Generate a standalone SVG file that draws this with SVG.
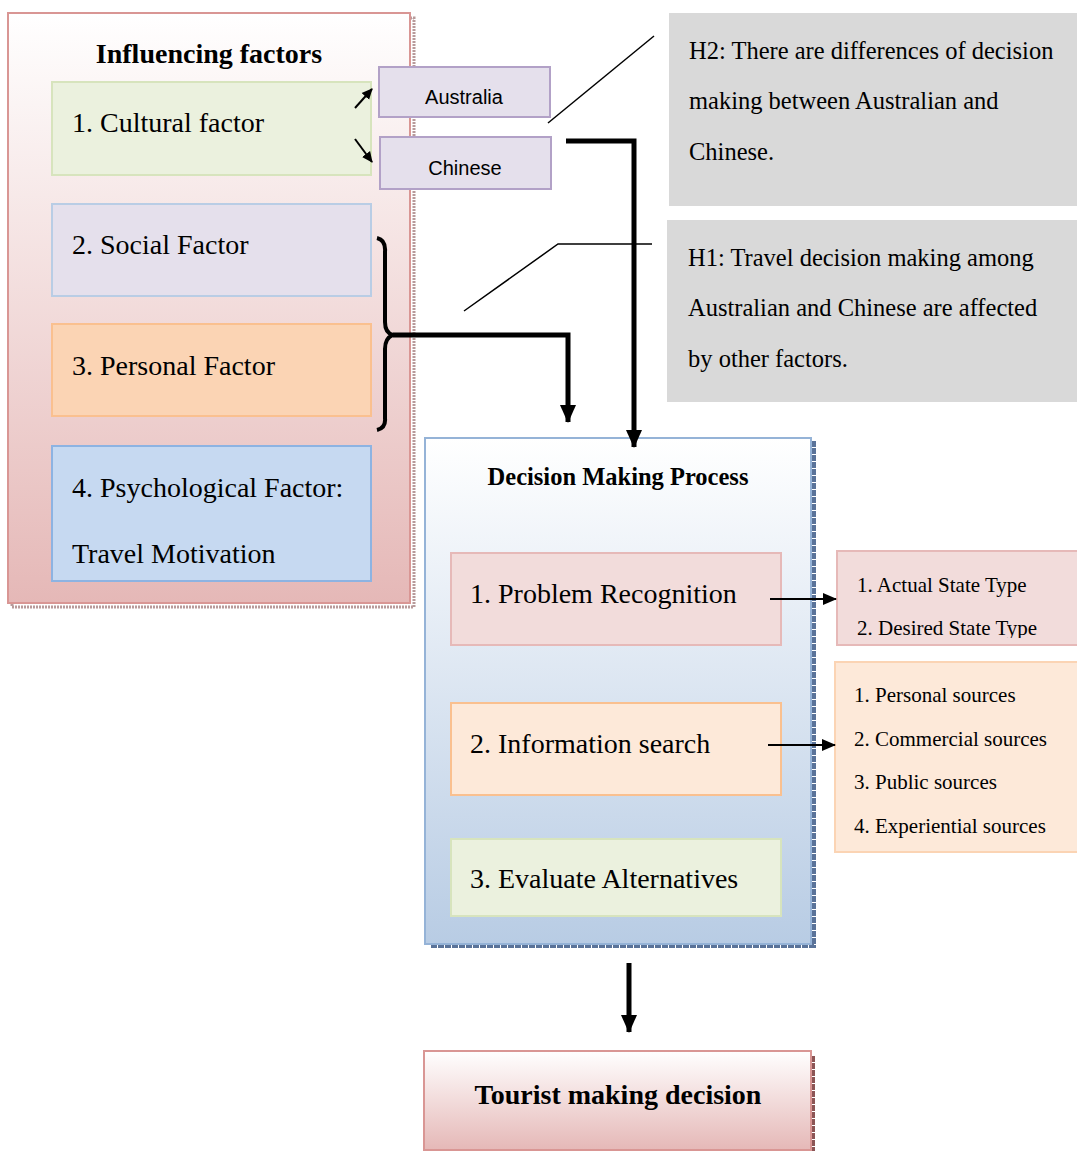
<svg xmlns="http://www.w3.org/2000/svg" width="1077" height="1151" viewBox="0 0 1077 1151">
<defs>
<linearGradient id="gPink" x1="0" y1="0" x2="0" y2="1">
<stop offset="0" stop-color="#ffffff"/>
<stop offset="1" stop-color="#e5b8b7"/>
</linearGradient>
<linearGradient id="gBlue" x1="0" y1="0" x2="0" y2="1">
<stop offset="0" stop-color="#ffffff"/>
<stop offset="1" stop-color="#b8cce4"/>
</linearGradient>
<marker id="thick" markerUnits="userSpaceOnUse" markerWidth="18" markerHeight="18" viewBox="0 0 18 18" refX="17" refY="9" orient="auto">
<path d="M0,1 L18,9 L0,17 Z" fill="#000"/>
</marker>
<marker id="thin" markerUnits="userSpaceOnUse" markerWidth="14" markerHeight="14" viewBox="0 0 14 14" refX="13" refY="7" orient="auto">
<path d="M0,1 L14,7 L0,13 Z" fill="#000"/>
</marker>
<marker id="small" markerUnits="userSpaceOnUse" markerWidth="11" markerHeight="11" viewBox="0 0 11 11" refX="10" refY="5.5" orient="auto">
<path d="M0,0.5 L11,5.5 L0,10.5 Z" fill="#000"/>
</marker>
<clipPath id="clipState"><rect x="837" y="551" width="240" height="87"/></clipPath>
</defs>
<style>
.serif{font-family:"Liberation Serif","Times New Roman",serif;fill:#000}
.sans{font-family:"Liberation Sans",Arial,sans-serif;fill:#000}
.big{font-size:28px}
.mid{font-size:24.5px}
.sm{font-size:21px}
.b{font-weight:bold}
.conn{fill:none;stroke:#000}
</style>

<g id="influencing-factors">
<path d="M410,18 H414 V607 H12 V603" fill="none" stroke="#b89a9a" stroke-width="3" stroke-dasharray="2 1"/>
<rect x="8" y="13" width="402" height="590" fill="url(#gPink)" stroke="#d99694" stroke-width="2"/>
<text class="serif big b" x="209" y="63" text-anchor="middle">Influencing factors</text>
</g>

<g id="cultural-factor">
<rect x="52" y="82" width="319" height="93" fill="#ebf1de" stroke="#d7e4bd" stroke-width="2"/>
<text class="serif big" x="72" y="132">1. Cultural factor</text>
</g>

<g id="social-factor">
<rect x="52" y="204" width="319" height="92" fill="#e5e0ec" stroke="#b9cde5" stroke-width="2"/>
<text class="serif big" x="72" y="254">2. Social Factor</text>
</g>

<g id="personal-factor">
<rect x="52" y="324" width="319" height="92" fill="#fbd4b4" stroke="#fac08f" stroke-width="2"/>
<text class="serif big" x="72" y="375">3. Personal Factor</text>
</g>

<g id="psychological-factor">
<rect x="52" y="446" width="319" height="135" fill="#c6d9f1" stroke="#8db3e2" stroke-width="2"/>
<text class="serif big" x="72" y="497">4. Psychological Factor:</text>
<text class="serif big" x="72" y="563">Travel Motivation</text>
</g>

<g id="australia">
<rect x="379" y="67" width="171" height="50" fill="#e5e0ec" stroke="#b2a1c7" stroke-width="2"/>
<text class="sans" font-size="20" x="464" y="104" text-anchor="middle">Australia</text>
</g>

<g id="chinese">
<rect x="380" y="137" width="171" height="52" fill="#e5e0ec" stroke="#b2a1c7" stroke-width="2"/>
<text class="sans" font-size="20" x="465" y="175" text-anchor="middle">Chinese</text>
</g>

<g id="h2">
<rect x="669" y="13" width="408" height="193" fill="#d9d9d9"/>
<text class="serif mid" x="689" y="59">H2: There are differences of decision</text>
<text class="serif mid" x="689" y="109">making between Australian and</text>
<text class="serif mid" x="689" y="160">Chinese.</text>
</g>

<g id="h1">
<rect x="667" y="220" width="410" height="182" fill="#d9d9d9"/>
<text class="serif mid" x="688" y="266">H1: Travel decision making among</text>
<text class="serif mid" x="688" y="316">Australian and Chinese are affected</text>
<text class="serif mid" x="688" y="367">by other factors.</text>
</g>

<g id="decision-making-process">
<path d="M812,443 H814 V946 H430" fill="none" stroke="#5a7399" stroke-width="4" stroke-dasharray="6 1"/>
<rect x="425" y="438" width="386" height="506" fill="url(#gBlue)" stroke="#95b3d7" stroke-width="2"/>
<text class="serif mid b" x="618" y="485" text-anchor="middle">Decision Making Process</text>
</g>

<g id="problem-recognition">
<rect x="451" y="553" width="330" height="92" fill="#f2dcdb" stroke="#e6b9b8" stroke-width="2"/>
<text class="serif big" x="470" y="603">1. Problem Recognition</text>
</g>

<g id="state-types">
<rect x="837" y="551" width="242" height="94" fill="#f2dcdb" stroke="#e6b9b8" stroke-width="2"/>
<g clip-path="url(#clipState)">
<text class="serif sm" x="857" y="592">1. Actual State Type</text>
<text class="serif sm" x="857" y="635">2. Desired State Type</text>
</g>
</g>

<g id="information-search">
<rect x="451" y="703" width="330" height="92" fill="#fde9d9" stroke="#fac08f" stroke-width="2"/>
<text class="serif big" x="470" y="753">2. Information search</text>
</g>

<g id="sources">
<rect x="835" y="662" width="244" height="190" fill="#fde9d9" stroke="#fbd4b4" stroke-width="2"/>
<text class="serif sm" x="854" y="702">1. Personal sources</text>
<text class="serif sm" x="854" y="746">2. Commercial sources</text>
<text class="serif sm" x="854" y="789">3. Public sources</text>
<text class="serif sm" x="854" y="833">4. Experiential sources</text>
</g>

<g id="evaluate-alternatives">
<rect x="451" y="839" width="330" height="77" fill="#ebf1de" stroke="#d7e4bd" stroke-width="2"/>
<text class="serif big" x="470" y="888">3. Evaluate Alternatives</text>
</g>

<g id="tourist-making-decision">
<path d="M813,1056 V1151" fill="none" stroke="#8c5555" stroke-width="4" stroke-dasharray="6 1"/>
<rect x="424" y="1051" width="387" height="99" fill="url(#gPink)" stroke="#d99694" stroke-width="2"/>
<text class="serif big b" x="618" y="1104" text-anchor="middle">Tourist making decision</text>
</g>

<g id="connectors">
<line class="conn" x1="355" y1="108" x2="372" y2="89" stroke-width="2" marker-end="url(#small)"/>
<line class="conn" x1="355" y1="139" x2="372" y2="162" stroke-width="2" marker-end="url(#small)"/>
<line class="conn" x1="548" y1="123" x2="654" y2="36" stroke-width="1.5"/>
<polyline class="conn" points="464,311 558,244 652,244" stroke-width="1.5"/>
<polyline class="conn" points="566,141 634,141 634,447" stroke-width="5" marker-end="url(#thick)"/>
<path class="conn" d="M377,238 Q386,240 385,252 V322 Q385,333 393,335 Q385,338 385,349 V418 Q386,428 377,430" stroke-width="4"/>
<polyline class="conn" points="393,335 568,335 568,422" stroke-width="5" marker-end="url(#thick)"/>
<line class="conn" x1="770" y1="599" x2="836" y2="599" stroke-width="2" marker-end="url(#thin)"/>
<line class="conn" x1="768" y1="745" x2="835" y2="745" stroke-width="2" marker-end="url(#thin)"/>
<line class="conn" x1="629" y1="963" x2="629" y2="1032" stroke-width="5" marker-end="url(#thick)"/>
</g>
</svg>
